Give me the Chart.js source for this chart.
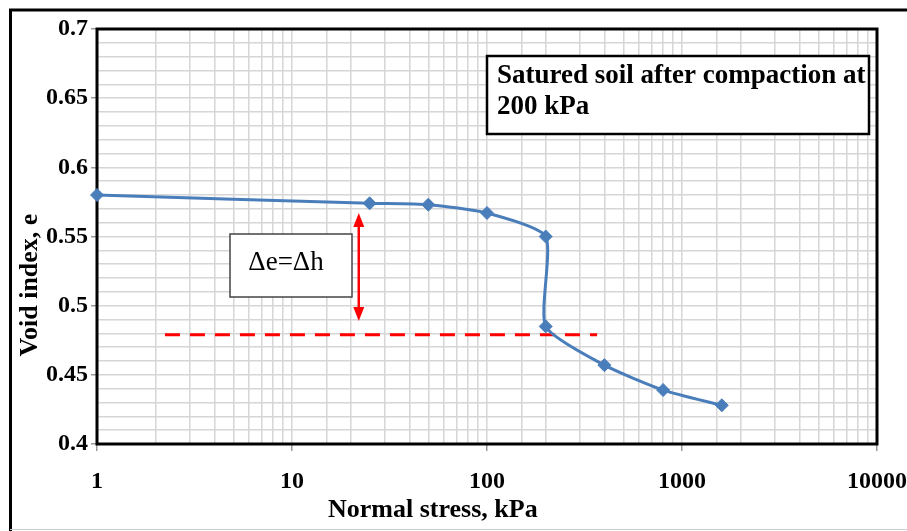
<!DOCTYPE html>
<html>
<head>
<meta charset="utf-8">
<script src="https://cdn.jsdelivr.net/npm/chart.js@4.4.1/dist/chart.umd.min.js"></script>
<style>
  body { margin: 0; background: #fff; }
  #wrap { width: 907px; height: 531px; position: relative; }
</style>
</head>
<body>
<div id="wrap"><canvas id="curve"></canvas></div>
<script>
// oedometer curve
const stress = [1, 25, 50, 100, 200, 200, 400, 800, 1600];
const voidIndex = [0.58, 0.574, 0.573, 0.567, 0.55, 0.485, 0.457, 0.439, 0.428];

// red dashed reference level
const refStress = [2.23, 367];
const refVoid = [0.479, 0.479];

// red double arrow (delta e)
const arrowStress = 22;
const arrowVoid = [0.567, 0.489];

const xTitle = 'Normal stress, kPa';
const yTitle = 'Void index, e';
const boxLines = ['Satured soil after compaction at', '200 kPa'];
const deltaText = 'Δe=Δh';

const serif = "'Liberation Serif', 'Times New Roman', serif";

const isMajorY = v => Math.round(v * 100) % 5 === 0;
const isMajorX = v => Math.abs(Math.log10(v) - Math.round(Math.log10(v))) < 1e-9;

const extras = {
    id: 'extras',
    beforeDatasetsDraw(chart) {
        const { ctx, chartArea: a } = chart;
        ctx.save();
        ctx.strokeStyle = '#000';
        ctx.lineWidth = 3;
        ctx.strokeRect(a.left, a.top, a.right - a.left, a.bottom - a.top);
        ctx.restore();
    },
    afterDraw(chart) {
        const { ctx, scales } = chart;
        ctx.save();

        // outer frame
        ctx.strokeStyle = '#000';
        ctx.lineWidth = 3;
        ctx.beginPath();
        ctx.moveTo(10.5, 531);
        ctx.lineTo(10.5, 10);
        ctx.lineTo(907, 10);
        ctx.stroke();
        ctx.strokeStyle = '#ccc';
        ctx.lineWidth = 1;
        ctx.beginPath();
        ctx.moveTo(10, 529.5);
        ctx.lineTo(907, 529.5);
        ctx.stroke();

        // axis titles
        ctx.fillStyle = '#000';
        ctx.font = 'bold 26px ' + serif;
        ctx.textBaseline = 'alphabetic';
        ctx.textAlign = 'left';
        ctx.fillText(xTitle, 328, 517);
        ctx.save();
        ctx.translate(37, 285);
        ctx.rotate(-Math.PI / 2);
        ctx.textAlign = 'center';
        ctx.fillText(yTitle, 0, 0);
        ctx.restore();

        // info box
        ctx.fillStyle = '#fff';
        ctx.fillRect(487, 56, 382, 78);
        ctx.strokeStyle = '#000';
        ctx.lineWidth = 2.5;
        ctx.strokeRect(487, 56, 382, 78);
        ctx.fillStyle = '#000';
        ctx.font = 'bold 27px ' + serif;
        ctx.textAlign = 'left';
        ctx.fillText(boxLines[0], 497, 83);
        ctx.fillText(boxLines[1], 497, 114);

        // delta box
        ctx.fillStyle = '#fff';
        ctx.fillRect(230, 234, 122, 63);
        ctx.strokeStyle = '#444';
        ctx.lineWidth = 1.5;
        ctx.strokeRect(230, 234, 122, 63);
        ctx.fillStyle = '#000';
        ctx.font = '27px ' + serif;
        ctx.textAlign = 'center';
        ctx.fillText(deltaText, 286, 270);

        // double arrow
        const ax = scales.x.getPixelForValue(arrowStress);
        const yTop = scales.y.getPixelForValue(arrowVoid[0]);
        const yBot = scales.y.getPixelForValue(arrowVoid[1]);
        const head = 14, half = 5.5;
        ctx.strokeStyle = '#ff0000';
        ctx.fillStyle = '#ff0000';
        ctx.lineWidth = 2.5;
        ctx.beginPath();
        ctx.moveTo(ax, yTop + head - 2);
        ctx.lineTo(ax, yBot - head + 2);
        ctx.stroke();
        ctx.beginPath();
        ctx.moveTo(ax, yTop);
        ctx.lineTo(ax - half, yTop + head);
        ctx.lineTo(ax + half, yTop + head);
        ctx.closePath();
        ctx.fill();
        ctx.beginPath();
        ctx.moveTo(ax, yBot);
        ctx.lineTo(ax - half, yBot - head);
        ctx.lineTo(ax + half, yBot - head);
        ctx.closePath();
        ctx.fill();

        ctx.restore();
    }
};

new Chart(document.getElementById('curve'), {
    type: 'scatter',
    data: {
        datasets: [
            {
                label: 'e - log p',
                data: stress.map((s, i) => ({ x: s, y: voidIndex[i] })),
                showLine: true,
                tension: 0.2,
                borderColor: '#4a7ebb',
                backgroundColor: '#4a7ebb',
                borderWidth: 3,
                pointStyle: 'rectRot',
                pointRadius: 6.5,
                pointBorderWidth: 1,
                clip: false,
                order: 1
            },
            {
                label: 'reference',
                data: refStress.map((s, i) => ({ x: s, y: refVoid[i] })),
                showLine: true,
                borderColor: '#ff0000',
                borderWidth: 3,
                borderDash: [15, 10],
                pointRadius: 0,
                order: 2
            }
        ]
    },
    options: {
        responsive: true,
        maintainAspectRatio: false,
        animation: false,
        layout: { padding: { left: 0, top: 29, right: 30, bottom: 0 } },
        plugins: {
            legend: { display: false },
            tooltip: { enabled: false }
        },
        scales: {
            x: {
                type: 'logarithmic',
                min: 1,
                max: 10000,
                border: { display: false },
                grid: {
                    color: '#d6d6d6',
                    lineWidth: 1.5,
                    tickLength: 7,
                    tickColor: c => (c.tick && isMajorX(c.tick.value)) ? '#999' : 'rgba(0,0,0,0)'
                },
                ticks: {
                    autoSkip: false,
                    maxRotation: 0,
                    padding: 16,
                    color: '#000',
                    font: { family: serif, size: 24, weight: 'bold' },
                    callback: v => isMajorX(v) ? String(Math.round(v)) : ''
                },
                afterFit: s => {
                    s.height = 87;
                    s.paddingLeft = 0;
                    s.paddingRight = 0;
                }
            },
            y: {
                min: 0.4,
                max: 0.7,
                border: { display: false },
                grid: {
                    color: '#d6d6d6',
                    lineWidth: 1.5,
                    tickLength: 6,
                    tickColor: c => (c.tick && isMajorY(c.tick.value)) ? '#999' : 'rgba(0,0,0,0)'
                },
                ticks: {
                    stepSize: 0.01,
                    autoSkip: false,
                    padding: 3,
                    color: '#000',
                    font: { family: serif, size: 24, weight: 'bold' },
                    callback: v => isMajorY(v) ? String(Math.round(v * 100) / 100) : ''
                },
                afterFit: s => { s.width = 97; }
            }
        }
    },
    plugins: [extras]
});
</script>
</body>
</html>
